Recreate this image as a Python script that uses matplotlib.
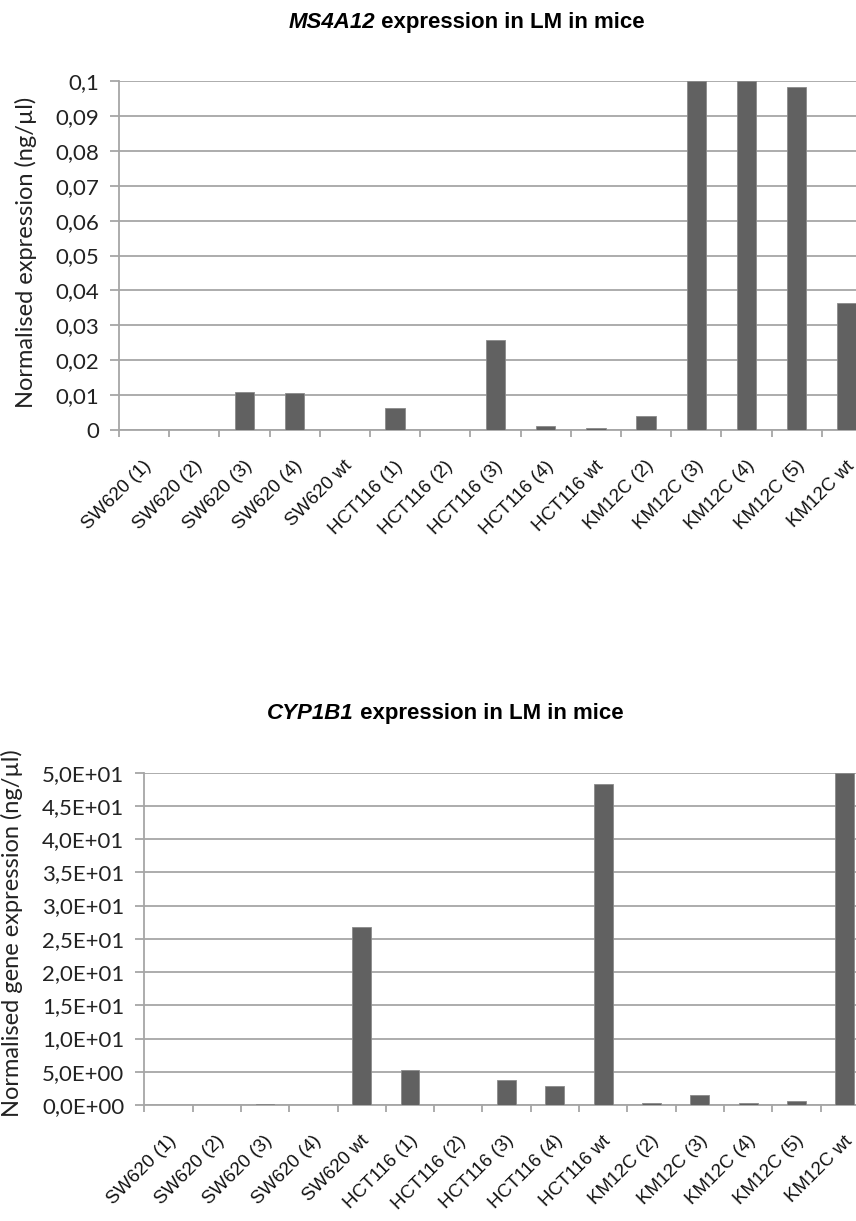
import numpy as np
import matplotlib.pyplot as plt
from matplotlib.ticker import FixedLocator, FuncFormatter
import matplotlib.transforms as mtransforms

samples = ["SW620 (1)", "SW620 (2)", "SW620 (3)", "SW620 (4)", "SW620 wt",
           "HCT116 (1)", "HCT116 (2)", "HCT116 (3)", "HCT116 (4)", "HCT116 wt",
           "KM12C (2)", "KM12C (3)", "KM12C (4)", "KM12C (5)", "KM12C wt"]

ms4a12 = [0, 0, 0.0110, 0.0107, 0, 0.0062, 0, 0.0258, 0.0012, 0.0005,
          0.0040, 0.1, 0.1, 0.0984, 0.0363]
cyp1b1 = [0, 0, 0.2, 0, 26.8, 5.3, 0, 3.7, 2.9, 48.3,
          0.35, 1.5, 0.35, 0.55, 50.0]

BAR = '#616161'
GRID = '#a6a6a6'
TICKFONT = 'Lato'
LABFONT = 'Liberation Sans'


def draw(ax, vals, ymax, ystep, fmt, ylabel, ylab_x, ylab_y, fig):
    x = np.arange(len(samples))
    ax.bar(x, vals, width=0.39, color=BAR, edgecolor='#8a8a8a', linewidth=0.6, zorder=3)
    ax.set_xlim(-0.5, len(samples) - 0.5)
    ax.set_ylim(0, ymax)
    ax.yaxis.set_major_locator(FixedLocator(np.arange(0, ymax + ystep / 2, ystep)))
    ax.yaxis.set_major_formatter(FuncFormatter(fmt))
    ax.grid(axis='y', color=GRID, linewidth=1.3, zorder=0)
    for s in ['top', 'right']:
        ax.spines[s].set_visible(False)
    for s in ['left', 'bottom']:
        ax.spines[s].set_color(GRID)
        ax.spines[s].set_linewidth(1.3)
    ax.tick_params(axis='y', length=6.5, width=1.3, color=GRID, pad=8,
                   labelsize=16, labelcolor='#222222')
    for lab in ax.get_yticklabels():
        lab.set_family(TICKFONT)
    # boundary ticks on x, labels at centres
    ax.set_xticks(np.arange(-0.5, len(samples), 1.0))
    ax.set_xticklabels([])
    ax.tick_params(axis='x', which='major', length=5, width=1.3, color=GRID)
    ax.set_xticks(x, minor=True)
    ax.set_xticklabels(samples, minor=True, rotation=45, ha='right', va='center',
                       rotation_mode='anchor', fontsize=13.5, family=LABFONT,
                       color='#111111')
    ax.tick_params(axis='x', which='minor', length=0, pad=24)
    off = mtransforms.ScaledTranslation(5 / 100, 0, fig.dpi_scale_trans)
    for lab in ax.get_xticklabels(minor=True):
        lab.set_transform(lab.get_transform() + off)
    fig.text(ylab_x, ylab_y, ylabel, rotation=90, ha='center',
             va='center', fontsize=17, family=TICKFONT, color='#222222')


def title(fig, gene, rest, xc, y):
    r = fig.canvas.get_renderer()
    t1 = fig.text(0, y, gene, fontsize=16, weight='bold', style='italic',
                  family=LABFONT, va='center')
    t2 = fig.text(0, y, rest, fontsize=16, weight='bold', family=LABFONT, va='center')
    w1 = t1.get_window_extent(r).width / fig.bbox.width
    w2 = t2.get_window_extent(r).width / fig.bbox.width
    x0 = xc - (w1 + w2) / 2
    t1.set_x(x0)
    t2.set_x(x0 + w1)


fig = plt.figure(figsize=(8.56, 12.21), dpi=100)
ax1 = fig.add_axes([0.139, 0.6478, 0.8797, 0.2858])
ax2 = fig.add_axes([0.1686, 0.095, 0.8464, 0.2722])

draw(ax1, ms4a12, 0.1, 0.01,
     lambda v, p: '0' if v == 0 else ('%g' % round(v, 2)).replace('.', ','),
     'Normalised expression (ng/µl)', 0.030, 0.7936, fig)
draw(ax2, cyp1b1, 50, 5,
     lambda v, p: ('%.1E' % v).replace('.', ','),
     'Normalised gene expression (ng/µl)', 0.014, 0.2359, fig)

title(fig, 'MS4A12', ' expression in LM in mice', 0.545, 0.9815)
title(fig, 'CYP1B1', ' expression in LM in mice', 0.52, 0.416)

fig.savefig('out.png', dpi=100)
